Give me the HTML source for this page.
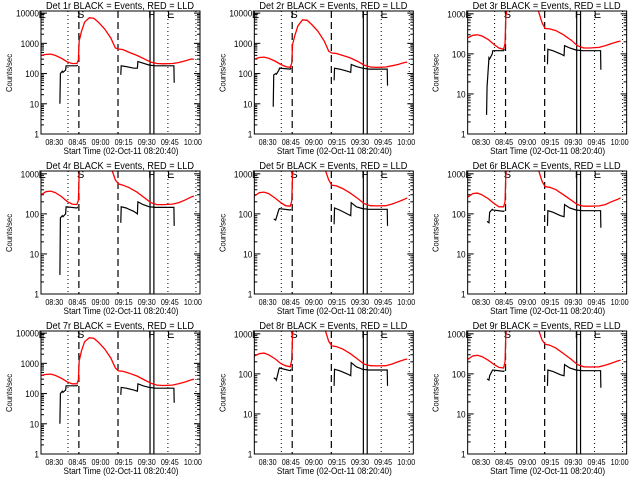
<!DOCTYPE html>
<html><head><meta charset="utf-8"><style>
html,body{margin:0;padding:0;background:#fff;}
svg{display:block;font-family:"Liberation Sans",sans-serif;}
</style></head><body>
<svg id="chart" width="640" height="480" viewBox="0 0 640 480" xmlns="http://www.w3.org/2000/svg"></svg>
<script>
// time in minutes since 08:00
const redT = [20.7,24,27,30,34,38,41,44,45,45.5,47,49,52,55,58,62,66,69,71,74,78,83,88,92,96,100,106,110,114,118,120];
const blackT = [33,33.3,34.5,35,36.7,37,44,44.6,45,72.5,72.8,76,81,83.3,83.6,87,91,95,100,107,107.2];
const detNames = ["1r","2r","3r","4r","5r","6r","7r","8r","9r"];
const yMaxes = [10000,10000,1000,1000,1000,1000,10000,1000,1000];
const red1 = [400,430,440,400,320,240,215,215,280,1200,2500,5000,7000,6800,5000,3000,1500,700,650,620,500,400,300,240,215,210,215,230,260,300,300];
const red2 = [300,340,350,320,260,200,170,160,220,900,1800,3800,6000,5800,4200,2500,1200,550,480,460,400,330,250,190,165,160,165,180,200,230,240];
const red3 = [250,290,300,280,230,170,140,130,180,900,2000,4000,6000,5800,4500,2600,1400,600,430,420,380,300,220,160,140,140,145,160,180,200,210];
const red4 = [300,360,370,340,270,200,175,170,220,1000,2200,4500,6500,6300,4800,2800,1500,700,560,520,450,350,250,190,170,170,175,190,220,260,280];
const red5 = [280,340,350,320,250,190,160,155,210,1000,2200,4500,6500,6300,4800,2800,1500,700,520,500,430,330,240,180,160,158,160,175,200,230,250];
const red6 = [260,320,330,300,240,180,150,150,200,1000,2200,4500,6500,6300,4800,2800,1500,650,480,460,400,300,220,170,155,155,158,170,200,230,250];
const red7 = [400,430,440,400,320,240,210,210,280,1200,2600,5200,7000,6800,5000,3000,1500,700,560,540,470,380,280,220,190,185,190,210,240,280,300];
const red8 = [280,320,330,300,240,180,160,150,220,1000,2200,4500,6500,6300,4800,2800,1500,650,500,480,420,320,230,175,160,158,160,175,200,225,235];
const red9 = [230,280,290,270,220,170,145,140,200,1000,2200,4500,6500,6300,4800,2800,1500,700,550,520,440,320,230,170,150,148,150,165,185,210,220];
const blk1 = [10,100,120,110,130,180,180,190,null,90,180,170,150,150,250,220,190,180,180,180,50];
const blk2 = [8,90,100,95,130,150,140,150,null,60,150,140,120,110,200,170,150,140,140,140,40];
const blk3 = [3,15,80,75,100,120,120,130,null,55,130,120,100,90,160,140,125,120,120,120,40];
const blk4 = [3,80,90,85,100,150,140,150,null,60,150,140,115,100,200,170,150,145,145,145,50];
const blk5 = [null,75,70,80,130,135,125,130,null,55,140,125,100,90,190,150,135,130,130,130,50];
const blk6 = [null,65,60,110,130,125,115,120,null,50,120,110,90,85,170,140,125,120,120,120,45];
const blk7 = [10,100,120,110,130,180,180,190,null,90,160,150,130,120,210,180,160,150,150,150,50];
const blk8 = [null,80,75,70,130,140,120,130,null,50,130,120,100,90,190,150,130,125,125,125,50];
const blk9 = [null,75,70,90,120,125,115,120,null,50,125,115,95,90,170,140,125,120,120,120,45];
const reds = [red1,red2,red3,red4,red5,red6,red7,red8,red9];
const blks = [blk1,blk2,blk3,blk4,blk5,blk6,blk7,blk8,blk9];
const xTickT = [30,45,60,75,90,105,120];
const xTickLabels = ["08:30","08:45","09:00","09:15","09:30","09:45","10:00"];
const dottedT = [38.2,103.1,121.3];
const dashedT = [45.3,70.7];
const solidT = [91.5,94];
const flagT = [21.5,46.5,92.5,105];
const flagLabels = ["E","S","F","E"];

const NS="http://www.w3.org/2000/svg";
const svg=document.getElementById('chart');
function mk(tag,attrs,parent){const e=document.createElementNS(NS,tag);for(const k in attrs)e.setAttribute(k,attrs[k]);parent.appendChild(e);return e;}
const L=41,R=200,T=11,B=134,T0=20.7,PXM=1.54;
const xs=t=>L+(t-T0)*PXM;

for(let p=0;p<9;p++){
  const col=p%3,row=Math.floor(p/3);
  const g=mk('g',{transform:`translate(${(col*213.33).toFixed(2)},${row*160})`},svg);
  
  
  const top=Math.log10(yMaxes[p])+0.07;
  const ys=v=>B-(Math.log10(v)/top)*(B-T);
  const cid='clip'+p;
  const cp=mk('clipPath',{id:cid},g);mk('rect',{x:L,y:T,width:R-L,height:B-T},cp);
  const t=mk('text',{x:120,y:9,'text-anchor':'middle','font-size':10.5,fill:'#000',textLength:148,lengthAdjust:'spacingAndGlyphs'},g);
  t.textContent=`Det ${detNames[p]} BLACK = Events, RED = LLD`;
  
  
  const yl=mk('text',{x:0,y:0,transform:'translate(12,73) rotate(-90)','text-anchor':'middle','font-size':8,fill:'#000',textLength:38,lengthAdjust:'spacingAndGlyphs'},g);
  yl.textContent='Counts/sec';
  
  
  const xl=mk('text',{x:121,y:154,'text-anchor':'middle','font-size':9,fill:'#000',textLength:115,lengthAdjust:'spacingAndGlyphs'},g);
  xl.textContent='Start Time (02-Oct-11 08:20:40)';
  
  
  const nd=Math.round(Math.log10(yMaxes[p]));
  for(let d=0;d<=nd;d++){
    const v=Math.pow(10,d),y=ys(v);
    mk('line',{x1:L,x2:L+6,y1:y,y2:y,stroke:'#000'},g);
    mk('line',{x1:R,x2:R-6,y1:y,y2:y,stroke:'#000'},g);
    if(d<nd){
      for(let m=2;m<=9;m++){
        const ym=ys(v*m);
        mk('line',{x1:L,x2:L+3,y1:ym,y2:ym,stroke:'#000'},g);
        mk('line',{x1:R,x2:R-3,y1:ym,y2:ym,stroke:'#000'},g);
      }
    }
    const s=String(v);
    const tl=mk('text',{x:L-2,y:y+3.5,'text-anchor':'end','font-size':9.5,fill:'#000',textLength:s.length*4.6,lengthAdjust:'spacingAndGlyphs'},g);
    tl.textContent=s;
    
    
  }
  xTickT.forEach((tt,i)=>{
    const x=xs(tt);
    const tl=mk('text',{x:x-1,y:145,'text-anchor':'middle','font-size':8.5,fill:'#000',textLength:18,lengthAdjust:'spacingAndGlyphs'},g);
    tl.textContent=xTickLabels[i];
    
    
  });
  dottedT.forEach(tt=>{const l=mk('line',{x1:xs(tt),x2:xs(tt),y1:T,y2:B,stroke:'#000','stroke-dasharray':'1,3'},g);});
  dashedT.forEach(tt=>{const l=mk('line',{x1:xs(tt),x2:xs(tt),y1:T,y2:B,stroke:'#000','stroke-width':1.2,'stroke-dasharray':'7,4'},g);});
  solidT.forEach(tt=>{const l=mk('line',{x1:xs(tt),x2:xs(tt),y1:T,y2:B,stroke:'#000','stroke-width':1.2},g);});
  flagT.forEach((tt,i)=>{
    const f=mk('text',{x:xs(tt),y:18,'text-anchor':'middle','font-size':11,fill:'#000'},g);
    f.textContent=flagLabels[i];
    
    
  });
  const cg=mk('g',{'clip-path':`url(#${cid})`},g);
  let d='';
  redT.forEach((tt,i)=>{d+=(i?'L':'M')+xs(tt).toFixed(1)+','+ys(reds[p][i]).toFixed(1);});
  const rp=mk('path',{d:d,fill:'none',stroke:'#f00','stroke-width':1.3},cg);
  
  
  d='';let pen=false;
  blackT.forEach((tt,i)=>{const v=blks[p][i];if(v==null){pen=false;return;}d+=(pen?'L':'M')+xs(tt).toFixed(1)+','+ys(v).toFixed(1);pen=true;});
  const bp=mk('path',{d:d,fill:'none',stroke:'#000','stroke-width':1.2},cg);
  
  
  const box=mk('rect',{x:L,y:T,width:R-L,height:B-T,fill:'none',stroke:'#000'},g);
  
  
}
</script>
</body></html>
